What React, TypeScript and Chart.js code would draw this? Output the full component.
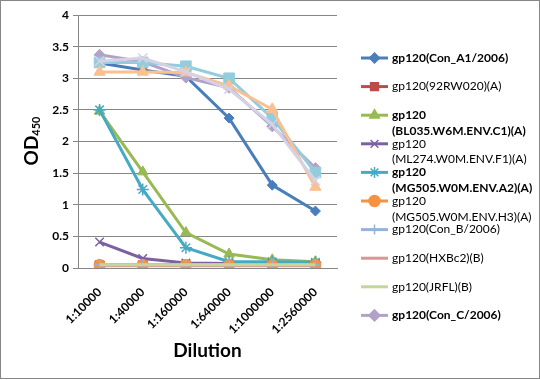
import React, { useEffect, useRef } from "react";
import { Chart, registerables } from "chart.js";
import { drawPoint } from "chart.js/helpers";

Chart.register(...registerables);

const categories = ["1:10000", "1:40000", "1:160000", "1:640000", "1:1000000", "1:2560000"];
const yTicks = [0, 0.5, 1, 1.5, 2, 2.5, 3, 3.5, 4];

const conA1 = [3.24, 3.13, 3.03, 2.37, 1.31, 0.9];
const rw020 = [0.04, 0.04, 0.04, 0.04, 0.04, 0.04];
const bl035 = [2.48, 1.52, 0.56, 0.22, 0.13, 0.1];
const ml274 = [0.41, 0.15, 0.08, 0.07, 0.07, 0.07];
const mg505A2 = [2.5, 1.24, 0.32, 0.1, 0.1, 0.09];
const mg505H3 = [0.05, 0.05, 0.05, 0.05, 0.05, 0.05];
const conB = [0.05, 0.05, 0.05, 0.05, 0.05, 0.05];
const hxbc2 = [0.035, 0.035, 0.035, 0.035, 0.035, 0.035];
const jrfl = [0.05, 0.05, 0.05, 0.05, 0.05, 0.05];
const conC = [3.37, 3.26, 3.01, 2.85, 2.24, 1.58];
const series11 = [3.25, 3.25, 3.19, 3.0, 2.37, 1.51];
const series12 = [3.1, 3.1, 3.09, 2.88, 2.51, 1.28];
const series13 = [3.27, 3.32, 3.1, 2.83, 2.27, 1.38];

const seriesNames = [
  "gp120(Con_A1/2006)",
  "gp120(92RW020)(A)",
  "gp120(BL035.W6M.ENV.C1)(A)",
  "gp120(ML274.W0M.ENV.F1)(A)",
  "gp120(MG505.W0M.ENV.A2)(A)",
  "gp120(MG505.W0M.ENV.H3)(A)",
  "gp120(Con_B/2006)",
  "gp120(HXBc2)(B)",
  "gp120(JRFL)(B)",
  "gp120(Con_C/2006)",
  "series 11",
  "series 12",
  "series 13",
];
const legendLines = [
  ["gp120(Con_A1/2006)"],
  ["gp120(92RW020)(A)"],
  ["gp120", "(BL035.W6M.ENV.C1)(A)"],
  ["gp120", "(ML274.W0M.ENV.F1)(A)"],
  ["gp120", "(MG505.W0M.ENV.A2)(A)"],
  ["gp120", "(MG505.W0M.ENV.H3)(A)"],
  ["gp120(Con_B/2006)"],
  ["gp120(HXBc2)(B)"],
  ["gp120(JRFL)(B)"],
  ["gp120(Con_C/2006)"],
];
const legendBold = [true, false, true, false, true, false, false, false, false, true];

const seriesValues = [conA1, rw020, bl035, ml274, mg505A2, mg505H3, conB, hxbc2, jrfl, conC, series11, series12, series13];
const colors = ["#4A7EBB", "#BE4B48", "#98B954", "#7D60A0", "#46AAC5", "#F69240", "#95B3D7", "#D99694", "#C3D69B", "#B3A2C7", "#93CDDD", "#FAC090", "#D6D2E6"];
const pointStyles: any[] = ["rectRot", "rect", "triangle", "crossRot", "star", "circle", "cross", false, false, "rectRot", "rect", "triangle", "crossRot"];
const pointRadii = [5, 6.5, 6, 6, 6, 5.5, 5, 0, 0, 5.5, 7.5, 6.5, 6.5];

const FONT = "Lato, 'DejaVu Sans', sans-serif";

export default function App() {
  const ref = useRef<HTMLCanvasElement>(null);
  useEffect(() => {
    document.body.style.margin = "0";
    const n = seriesValues.length;
    const datasets = seriesValues.map((vals, i) => {
      const isMarkerFilled = ["rectRot", "rect", "triangle", "circle"].includes(pointStyles[i]);
      return {
        label: seriesNames[i],
        data: vals,
        borderColor: colors[i],
        backgroundColor: colors[i],
        borderWidth: 3,
        pointStyle: pointStyles[i] === false ? "circle" : pointStyles[i],
        pointRadius: pointRadii[i],
        pointBorderWidth: isMarkerFilled ? 1 : 1.5,
        pointBackgroundColor: colors[i],
        pointBorderColor: colors[i],
        tension: 0,
        order: n - i,
      };
    });

    const decor = {
      id: "decor",
      afterDraw(chart: any) {
        const ctx = chart.ctx as CanvasRenderingContext2D;
        ctx.save();
        ctx.strokeStyle = "#868686";
        ctx.lineWidth = 1;
        ctx.strokeRect(0.5, 0.5, 539, 378);
        ctx.translate(31, 141);
        ctx.rotate(-Math.PI / 2);
        ctx.fillStyle = "#000";
        ctx.textBaseline = "alphabetic";
        ctx.font = "bold 19px " + FONT;
        const w1 = ctx.measureText("OD").width;
        ctx.font = "bold 11px " + FONT;
        const w2 = ctx.measureText("450").width;
        const start = -(w1 + w2) / 2;
        ctx.font = "bold 19px " + FONT;
        ctx.fillText("OD", start, 7);
        ctx.font = "bold 11px " + FONT;
        ctx.fillText("450", start + w1, 9);
        ctx.restore();

        ctx.save();
        const x0 = 361, x1 = 388, tx = 392;
        legendLines.forEach((lines, i) => {
          const y = 58 + i * 28.6;
          ctx.strokeStyle = colors[i];
          ctx.lineWidth = 3;
          ctx.beginPath();
          ctx.moveTo(x0, y);
          ctx.lineTo(x1, y);
          ctx.stroke();
          if (pointStyles[i]) {
            ctx.fillStyle = colors[i];
            ctx.strokeStyle = colors[i];
            ctx.lineWidth = 1.5;
            drawPoint(ctx, { pointStyle: pointStyles[i], radius: Math.min(pointRadii[i], 5.5), rotation: 0, borderWidth: 1.5 } as any, (x0 + x1) / 2, y);
          }
          ctx.fillStyle = "#000";
          ctx.font = (legendBold[i] ? "bold " : "") + "12px " + FONT;
          ctx.textBaseline = "middle";
          ctx.textAlign = "left";
          lines.forEach((t, j) => ctx.fillText(t, tx, y + j * 15.8));
        });
        ctx.restore();
      },
    };

    const chart = new Chart(ref.current!, {
      type: "line",
      data: { labels: categories, datasets: datasets as any },
      options: {
        animation: false,
        responsive: false,
        layout: { padding: { left: 0, top: 15, right: 203, bottom: 0 } },
        plugins: { legend: { display: false }, tooltip: { enabled: false } },
        scales: {
          x: {
            offset: true,
            grid: { display: false },
            border: { display: true, color: "#868686", width: 1 },
            ticks: {
              minRotation: 45,
              maxRotation: 45,
              padding: 9,
              color: "#000",
              font: { family: FONT, size: 12, weight: "bold" },
            },
            title: {
              display: true,
              text: "Dilution",
              color: "#000",
              font: { family: FONT, size: 19, weight: "bold" },
              padding: { top: 0, bottom: 18 },
            },
            afterFit(scale: any) {
              scale.height = 112;
            },
          },
          y: {
            min: 0,
            max: 4,
            afterBuildTicks(scale: any) {
              scale.ticks = yTicks.map((v) => ({ value: v }));
            },
            grid: { color: "#868686", lineWidth: 1, tickLength: 5 },
            border: { display: true, color: "#868686", width: 1 },
            ticks: {
              padding: 4,
              color: "#000",
              font: { family: FONT, size: 12, weight: "bold" },
              callback: (v: any) => String(v),
            },
            afterFit(scale: any) {
              scale.width = 78;
            },
          },
        },
      },
      plugins: [decor],
    });
    return () => chart.destroy();
  }, []);
  return (
    <div style={{ width: 540, height: 380, background: "#fff" }}>
      <canvas ref={ref} width={540} height={380} style={{ display: "block" }} />
    </div>
  );
}
